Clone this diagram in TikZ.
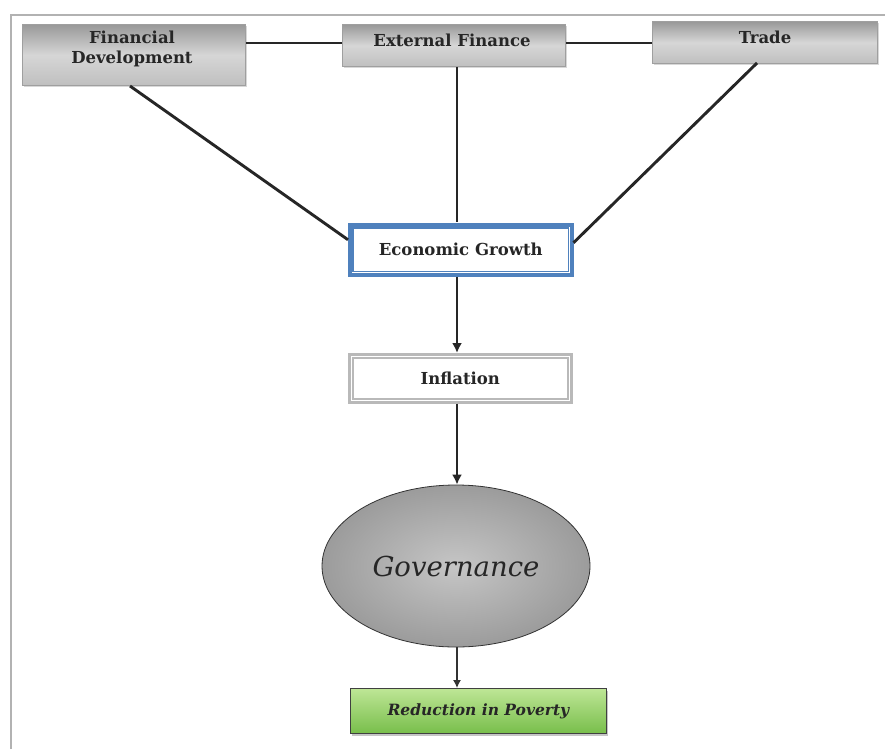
\documentclass[tikz,border=0pt]{standalone}
\usepackage{fontspec}
\setmainfont{DejaVu Serif}
\usetikzlibrary{shapes.geometric,arrows.meta,shadows,calc}
\definecolor{egblue}{RGB}{79,129,189}
\definecolor{lgreen}{RGB}{190,230,150}
\definecolor{dgreen}{RGB}{120,190,75}
\begin{document}
\begin{tikzpicture}[x=1pt,y=-1pt,
  lbl/.style={font=\bfseries\fontsize{16.5}{20}\selectfont, text=black!85, align=center},
  graybox/.style={draw=gray!75, line width=1pt, top color=gray!80, bottom color=gray!50, middle color=gray!32,
    inner sep=0pt, drop shadow={opacity=0.3, shadow xshift=1.5pt, shadow yshift=-2pt}},
  link/.style={line width=2.9pt, black!85},
  arr/.style={line width=2.9pt, black!85, -{Latex[length=10pt,width=10pt]}},
  thinarr/.style={line width=1.3pt, black!80, -{Latex[length=8pt,width=8pt]}}
]
\useasboundingbox (0,0) rectangle (885,749);
\fill[white] (0,0) rectangle (885,749);
% frame
\draw[gray!60, line width=2.2pt] (11,749) -- (11,15) -- (885,15);

% top boxes
\node[graybox, minimum width=223pt, minimum height=61pt, anchor=north west] (fd) at (22,24) {};
\node[lbl, anchor=center] (fdt) at (132,49) {Financial\\Development};
\node[graybox, minimum width=223pt, minimum height=42pt, anchor=north west] (ef) at (342,24) {};
\node[lbl, anchor=center] (eft) at (452,40) {External Finance};
\node[graybox, minimum width=225pt, minimum height=42pt, anchor=north west] (tr) at (652,21) {};
\node[lbl, anchor=center] (trt) at (765,37) {Trade};

% economic growth
\node[draw=egblue, line width=3.5pt, fill=white,
  minimum width=222pt, minimum height=50pt, anchor=north west, lbl] (eg) at (348,223) {Economic Growth};
\draw[egblue, line width=1.3pt] ($(eg.north west)+(5,5)$) rectangle ($(eg.south east)+(-5,-5)$);
% inflation
\node[draw=gray!55, line width=2.5pt, fill=white,
  minimum width=222pt, minimum height=48pt, anchor=north west, lbl] (inf) at (348,353) {Inflation};
\draw[gray!55, line width=2pt] ($(inf.north west)+(5,5)$) rectangle ($(inf.south east)+(-5,-5)$);

% governance
\node[ellipse, draw=gray!40!black, line width=0.8pt, inner color=gray!45, outer color=gray!78,
  minimum width=268pt, minimum height=162pt, font=\itshape\fontsize{27.5}{30}\selectfont, text=black!85] (gov) at (456,566) {Governance};

% reduction in poverty
\node[draw=gray!50!black, line width=0.8pt, top color=lgreen, bottom color=dgreen,
  minimum width=256pt, minimum height=45pt, anchor=north west,
  font=\bfseries\itshape\fontsize{15.5}{17}\selectfont, text=black!85,
  drop shadow={opacity=0.45, shadow xshift=1.5pt, shadow yshift=-2.5pt}] (rp) at (350,688) {Reduction in Poverty};

% connectors
\coordinate (fdb) at (130,86);
\coordinate (trb) at (757,63);
\draw[link] (fd.east |- 0,43) -- (ef.west |- 0,43);
\draw[link] (ef.east |- 0,43) -- (tr.west |- 0,43);
\draw[link] (fdb) -- ($(eg.west)+(0,-10)$);
\draw[link] (trb) -- ($(eg.east)+(0,-7)$);
\draw[link] (457,67) -- (457,222);
\draw[arr] (eg.south -| 457,0) -- (inf.north -| 457,0);
\draw[arr] (inf.south -| 457,0) -- (gov.north -| 457,0);
\draw[thinarr] (gov.south -| 457,0) -- (rp.north -| 457,0);
\end{tikzpicture}
\end{document}
